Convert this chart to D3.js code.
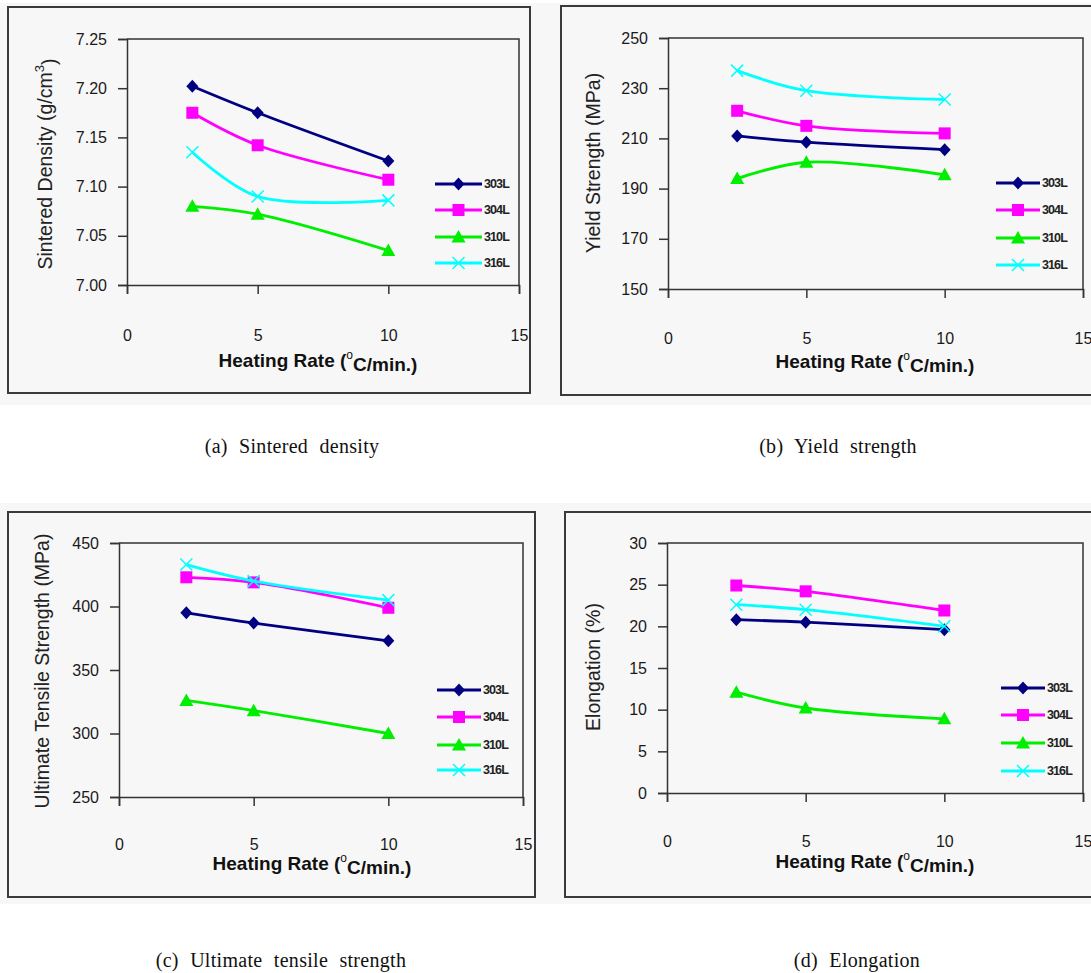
<!DOCTYPE html>
<html>
<head>
<meta charset="utf-8">
<script src="https://cdn.jsdelivr.net/npm/d3@7"></script>
<style>
body { margin: 0; background: #fff; }
svg { display: block; }
</style>
</head>
<body>
<div id="chart"></div>
<script>
//Data.
const heatingRates = [2.5, 5, 10];
const alloys = ["303L", "304L", "310L", "316L"];
const xTicks = [0, 5, 10, 15];

const density = [
  [7.202, 7.175, 7.126],
  [7.175, 7.142, 7.107],
  [7.080, 7.072, 7.035],
  [7.135, 7.090, 7.086]];
const densityTicks = [7.00, 7.05, 7.10, 7.15, 7.20, 7.25];

const yieldStrength = [
  [211, 208.5, 205.5],
  [221, 215, 212],
  [194, 200.5, 195.5],
  [237, 229, 225.5]];
const yieldTicks = [150, 170, 190, 210, 230, 250];

const tensileStrength = [
  [395, 387, 373],
  [423, 419, 399],
  [326, 318, 300],
  [433, 420, 405]];
const tensileTicks = [250, 300, 350, 400, 450];

const elongation = [
  [20.8, 20.5, 19.6],
  [24.9, 24.2, 21.9],
  [12.1, 10.2, 8.9],
  [22.6, 22.0, 20.0]];
const elongationTicks = [0, 5, 10, 15, 20, 25, 30];

const colors = ["#000080", "#ff00ff", "#00ee00", "#00ffff"];

const svg = d3.select("#chart")
  .append("svg")
  .attr("width", 1091)
  .attr("height", 973);

//Light grey scan background behind each row of panels.
svg.append("rect").attr("x", 0).attr("y", 3).attr("width", 1091).attr("height", 402).attr("fill", "#f7f7f7");
svg.append("rect").attr("x", 0).attr("y", 503).attr("width", 1091).attr("height", 401).attr("fill", "#f7f7f7");

//Marker shapes, drawn around (0,0).
function marker(g, i) {
  const c = colors[i];
  if (i === 0) {
    g.append("path").attr("d", "M0,-6.5L6,0L0,6.5L-6,0Z").attr("fill", c);
  } else if (i === 1) {
    g.append("rect").attr("x", -6).attr("y", -6).attr("width", 12).attr("height", 12).attr("fill", c);
  } else if (i === 2) {
    g.append("path").attr("d", "M0,-7L7,5.5L-7,5.5Z").attr("fill", c);
  } else {
    g.append("path").attr("d", "M-6,-6L6,6M-6,6L6,-6").attr("stroke", c).attr("stroke-width", 1.5).attr("fill", "none");
  }
}

function drawPanel(p) {
  const g = svg.append("g");

  //outer frame
  g.append("rect")
    .attr("x", p.frame[0]).attr("y", p.frame[1])
    .attr("width", p.frame[2] - p.frame[0]).attr("height", p.frame[3] - p.frame[1])
    .attr("fill", "none").attr("stroke", "#3a3a3a").attr("stroke-width", 2);

  const x = d3.scaleLinear().domain([0, 15]).range([p.left, p.right]);
  const y = d3.scaleLinear().domain(d3.extent(p.ticks)).range([p.bottom, p.top]);

  //plot box top and right
  g.append("path")
    .attr("d", "M" + p.left + "," + p.top + "H" + p.right + "V" + p.bottom)
    .attr("fill", "none").attr("stroke", "#333").attr("stroke-width", 1.5);

  const yAxis = g.append("g")
    .attr("transform", "translate(" + p.left + ",0)")
    .call(d3.axisLeft(y).tickValues(p.ticks).tickSize(9).tickPadding(11).tickFormat(d3.format(p.fmt)));

  const xAxis = g.append("g")
    .attr("transform", "translate(0," + p.bottom + ")")
    .call(d3.axisBottom(x).tickValues(xTicks).tickSize(9).tickPadding(p.labelY - p.bottom - 14.5));

  [xAxis, yAxis].forEach(function(a) {
    a.select(".domain").attr("stroke", "#333").attr("stroke-width", 1.5);
    a.selectAll(".tick line").attr("stroke", "#333").attr("stroke-width", 1.5);
    a.selectAll(".tick text")
      .attr("fill", "#1a1a1a")
      .style("font", "16px 'Liberation Sans', Arial, sans-serif");
  });

  //the series, smoothed like the original
  const line = d3.line()
    .x(function(d) { return x(d.rate); })
    .y(function(d) { return y(d.value); })
    .curve(d3.curveCatmullRom.alpha(0.5));

  p.values.forEach(function(vals, i) {
    const pts = heatingRates.map(function(r, k) { return {rate: r, value: vals[k]}; });
    g.append("path")
      .attr("d", line(pts))
      .attr("fill", "none")
      .attr("stroke", colors[i])
      .attr("stroke-width", 2.8);
    pts.forEach(function(d) {
      marker(g.append("g").attr("transform", "translate(" + x(d.rate) + "," + y(d.value) + ")"), i);
    });
  });

  //legend
  alloys.forEach(function(name, i) {
    const ly = p.legend.ys[i];
    g.append("line")
      .attr("x1", p.legend.x1).attr("x2", p.legend.x2)
      .attr("y1", ly).attr("y2", ly)
      .attr("stroke", colors[i]).attr("stroke-width", 2.8);
    marker(g.append("g").attr("transform", "translate(" + ((p.legend.x1 + p.legend.x2) / 2) + "," + ly + ")"), i);
    g.append("text")
      .attr("x", p.legend.x2 + 2).attr("y", ly).attr("dy", "0.35em")
      .attr("fill", "#222")
      .style("font", "bold 12.5px 'Liberation Sans', Arial, sans-serif")
      .style("letter-spacing", "-0.9px")
      .text(name);
  });

  //x axis title with superscript degree sign
  const xt = g.append("text")
    .attr("x", p.xTitle[0]).attr("y", p.xTitle[1]).attr("dy", "0.35em")
    .attr("text-anchor", "middle").attr("fill", "#111")
    .style("font", "bold 19px 'Liberation Sans', Arial, sans-serif");
  xt.append("tspan").text("Heating Rate (");
  xt.append("tspan").attr("dy", "-0.6em").style("font-size", "12px").style("font-weight", "normal").text("o");
  xt.append("tspan").attr("dy", "0.6em").text("C/min.)");

  //y axis title
  const yt = g.append("text")
    .attr("transform", "translate(" + p.yTitle[0] + "," + p.yTitle[1] + ") rotate(-90)")
    .attr("dy", "0.35em")
    .attr("text-anchor", "middle").attr("fill", "#222")
    .style("font", "19.5px 'Liberation Sans', Arial, sans-serif");
  yt.append("tspan").text(p.yLabel);
  if (p.sup) {
    yt.append("tspan").attr("dy", "-0.6em").style("font-size", "13px").text(p.sup);
    yt.append("tspan").attr("dy", "0.6em").text(")");
  }

  //caption under the panel
  svg.append("text")
    .attr("x", p.caption[0]).attr("y", p.caption[1]).attr("dy", "0.35em")
    .attr("text-anchor", "middle").attr("fill", "#111")
    .style("font", "20px 'Liberation Serif', 'Times New Roman', serif")
    .style("letter-spacing", "0.3px")
    .style("word-spacing", "6px")
    .text(p.caption[2]);
}

drawPanel({
  values: density, ticks: densityTicks, fmt: ".2f",
  frame: [8, 7, 530, 393],
  left: 127, right: 519, top: 39, bottom: 285, labelY: 335,
  legend: {x1: 435, x2: 482, ys: [184, 210, 237, 263]},
  xTitle: [318, 360], yTitle: [45, 164],
  yLabel: "Sintered Density (g/cm", sup: "3",
  caption: [292, 446, "(a) Sintered density"]
});

drawPanel({
  values: yieldStrength, ticks: yieldTicks, fmt: "d",
  frame: [561, 6, 1100, 395],
  left: 668, right: 1083, top: 38, bottom: 289, labelY: 338,
  legend: {x1: 996, x2: 1040, ys: [183, 210, 238, 265]},
  xTitle: [875, 361], yTitle: [593, 163],
  yLabel: "Yield Strength (MPa)",
  caption: [838, 446, "(b) Yield strength"]
});

drawPanel({
  values: tensileStrength, ticks: tensileTicks, fmt: "d",
  frame: [8, 512, 535, 897],
  left: 119, right: 523, top: 543, bottom: 797, labelY: 844,
  legend: {x1: 437, x2: 481, ys: [690, 717, 745, 770]},
  xTitle: [312, 863], yTitle: [42, 671],
  yLabel: "Ultimate Tensile Strength (MPa)",
  caption: [281, 960, "(c) Ultimate tensile strength"]
});

drawPanel({
  values: elongation, ticks: elongationTicks, fmt: "d",
  frame: [565, 512, 1100, 897],
  left: 667, right: 1083, top: 543, bottom: 793, labelY: 841,
  legend: {x1: 1001, x2: 1045, ys: [688, 715, 743, 771]},
  xTitle: [875, 861], yTitle: [593, 667],
  yLabel: "Elongation (%)",
  caption: [857, 960, "(d) Elongation"]
});
</script>
</body>
</html>
